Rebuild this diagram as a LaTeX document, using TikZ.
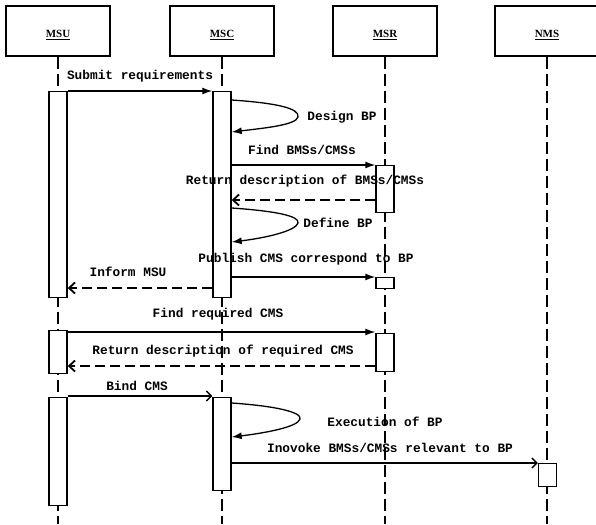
\documentclass[tikz,border=0pt]{standalone}
\usepackage{fontspec}
\newfontfamily\msgfont{Liberation Mono}
\newfontfamily\headfont{Liberation Serif}
\usetikzlibrary{arrows.meta}

\begin{document}
\begin{tikzpicture}[x=1pt, y=-1pt,
    head/.style={rectangle,draw=black,line width=1.4pt,minimum width=104pt,minimum height=50pt,inner sep=0pt,text height=16pt,text depth=3pt,font=\headfont\bfseries\fontsize{11}{12}\selectfont},
    bar/.style={rectangle,draw=black,fill=white,line width=1.4pt,minimum width=18pt,inner sep=0pt,anchor=north},
    lifeline/.style={draw=black,line width=2.6pt,dash pattern=on 12pt off 5pt},
    call/.style={draw=black,line width=1.3pt,-{Latex[length=10pt,width=7pt]}},
    callopen/.style={draw=black,line width=1.3pt,-{Straight Barb[length=5pt,width=10pt]}},
    reply/.style={draw=black,line width=1.8pt,dash pattern=on 10pt off 5pt,-{Straight Barb[length=6pt,width=11pt]}},
    self/.style={draw=black,line width=1.3pt,-{Latex[length=10pt,width=7pt]}},
    msg/.style={font=\msgfont\bfseries\fontsize{12.8}{14}\selectfont,inner sep=0pt,anchor=base},
]
	\useasboundingbox (0,0) rectangle (596,524);

	% objects
	\node[head](msu) at(58,31){\underline{MSU}};
	\node[head](msc) at(222,31){\underline{MSC}};
	\node[head](msr) at(385,31){\underline{MSR}};
	\node[head](nms) at(547,31){\underline{NMS}};

	\foreach \o in {msu,msc,msr,nms}
		\draw[lifeline](\o.south)--(\o.south |- 0,524);

	% activations
	\node[bar,minimum height=206pt](u1) at(58,91){};
	\node[bar,minimum height=43pt](u2) at(58,330){};
	\node[bar,minimum height=108pt](u3) at(58,397){};
	\node[bar,minimum height=206pt](c1) at(222,91){};
	\node[bar,minimum height=93pt](c2) at(222,397){};
	\node[bar,minimum height=47pt](r1) at(385,165){};
	\node[bar,minimum height=11pt](r2) at(385,277){};
	\node[bar,minimum height=38pt](r3) at(385,333){};
	\node[bar,minimum height=23pt](n1) at(547.5,463){};

	\coordinate (designtip) at (298,117);
	\coordinate (definetip) at (298,223);
	\coordinate (exectip) at (300,419);

	% messages
	\draw[call](u1.east |- 0,91)--(c1.west |- 0,91);
	\node[msg] at(140,80){Submit requirements};

	\draw[self](c1.east |- 0,100) .. controls (275,103) and (300,108) .. (designtip) .. controls (296,125) and (265,128) .. (c1.east |- 0,132);
	\node[msg] at(342,121){Design BP};

	\draw[call](c1.east |- 0,165)--(r1.west |- 0,165);
	\node[msg] at(302,154){Find BMSs/CMSs};

	\draw[reply](r1.west |- 0,200)--(c1.east |- 0,200);
	\node[msg] at(305,184){Return description of BMSs/CMSs};

	\draw[self](c1.east |- 0,208) .. controls (275,211) and (300,216) .. (definetip) .. controls (296,231) and (265,238) .. (c1.east |- 0,242);
	\node[msg] at(338,227){Define BP};

	\draw[call](c1.east |- 0,277)--(r2.west |- 0,277);
	\node[msg] at(306,262){Publish CMS correspond to BP};

	\draw[reply](c1.west |- 0,288)--(u1.east |- 0,288);
	\node[msg] at(128,276){Inform MSU};

	\draw[call](u2.east |- 0,332)--(r3.west |- 0,332);
	\node[msg] at(218,317){Find required CMS};

	\draw[reply](r3.west |- 0,366)--(u2.east |- 0,366);
	\node[msg] at(223,354){Return description of required CMS};

	\draw[callopen](u3.east |- 0,396)--(c2.west |- 0,396);
	\node[msg] at(137,390){Bind CMS};

	\draw[self](c2.east |- 0,403) .. controls (275,406) and (302,412) .. (exectip) .. controls (298,427) and (265,433) .. (c2.east |- 0,437);
	\node[msg] at(385,426){Execution of BP};

	\draw[callopen](c2.east |- 0,463)--(n1.west |- 0,463);
	\node[msg] at(390,452){Inovoke BMSs/CMSs relevant to BP};

\end{tikzpicture}
\end{document}
